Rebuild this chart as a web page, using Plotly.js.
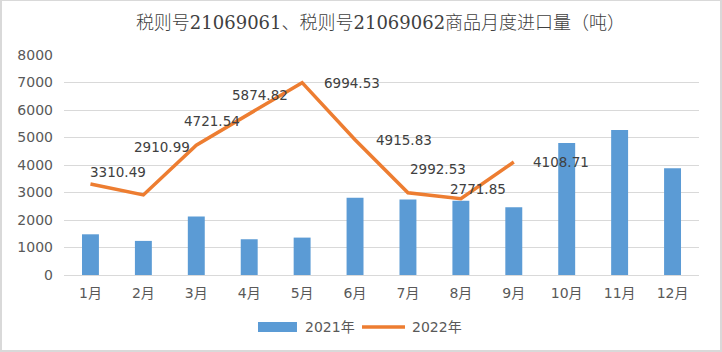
<!DOCTYPE html>
<html><head><meta charset="utf-8">
<script src="https://cdn.plot.ly/plotly-3.0.1.min.js"></script>
<style>
html,body{margin:0;padding:0;background:#fff;}
#chart{position:absolute;left:0;top:0;width:722px;height:352px;}
#frame{position:absolute;left:0;top:0;width:722px;height:352px;box-sizing:border-box;border:2px solid #d9d9d9;border-top:1px solid #d9d9d9;pointer-events:none;}
</style></head>
<body><div id="chart"></div><div id="frame"></div>
<script>
const months = ["1月","2月","3月","4月","5月","6月","7月","8月","9月","10月","11月","12月"];
const y2021 = [1480,1240,2130,1300,1360,2810,2750,2700,2460,4800,5270,3880];
const y2022 = [3310.49,2910.99,4721.54,5874.82,6994.53,4915.83,2992.53,2771.85,4108.71,null,null,null];
const seriesNames = ["2021年","2022年"];
const labelShiftX = [28,19,16,11,50,49,30,17,47];
const labelShiftY = [12,48,24,18,0,0,24,10,0];

const FONT = 'DejaVu Sans, Noto Sans CJK SC, sans-serif';
const annotations = [];
y2022.forEach((v,i)=>{
  if(v===null) return;
  annotations.push({x:months[i], y:v, xref:'x', yref:'y', text:v.toFixed(2), showarrow:false,
    xshift:labelShiftX[i], yshift:labelShiftY[i],
    font:{family:FONT, size:13.5, color:'#404040'}});
});
// custom legend text
annotations.push({xref:'paper', yref:'paper', x:0.3764, y:-0.2364, xanchor:'left', yanchor:'middle', showarrow:false,
  text:seriesNames[0], font:{family:FONT, size:14, color:'#595959'}});
annotations.push({xref:'paper', yref:'paper', x:0.5449, y:-0.2364, xanchor:'left', yanchor:'middle', showarrow:false,
  text:seriesNames[1], font:{family:FONT, size:14, color:'#595959'}});

const shapes = [
  {type:'rect', xref:'paper', yref:'paper', x0:0.3055, x1:0.3669, y0:-0.2591, y1:-0.2136, fillcolor:'#5B9BD5', line:{width:0}},
  {type:'line', xref:'paper', yref:'paper', x0:0.4693, x1:0.537, y0:-0.2364, y1:-0.2364, line:{color:'#ED7D31', width:3.5}}
];

const data = [
  {type:'bar', name:seriesNames[0], x:months, y:y2021, marker:{color:'#5B9BD5'}, width:0.32},
  {type:'scatter', mode:'lines', name:seriesNames[1], x:months, y:y2022, line:{color:'#ED7D31', width:3.5}}
];
const layout = {
  width:722, height:352,
  margin:{l:64, r:23, t:55, b:77},
  paper_bgcolor:'#fff', plot_bgcolor:'#fff',
  title:{text:'税则号21069061、税则号21069062商品月度进口量（吨）', x:0.527, xanchor:'center', y:0.935, yanchor:'middle',
    font:{family:'DejaVu Serif, Noto Sans CJK SC, serif', size:18, color:'#404040', weight:300}},
  xaxis:{type:'category', showgrid:false, zeroline:false, showline:false, ticks:'', ticklabelstandoff:8,
    tickfont:{family:FONT, size:14, color:'#595959'}},
  yaxis:{range:[0,8000], dtick:1000, tick0:0, showgrid:true, gridcolor:'#d9d9d9', gridwidth:1,
    zeroline:true, zerolinecolor:'#d9d9d9', zerolinewidth:1, showline:false, ticks:'',
    ticklabelstandoff:10,
    tickfont:{family:FONT, size:14, color:'#595959'}},
  showlegend:false,
  annotations:annotations,
  shapes:shapes
};
Plotly.newPlot('chart', data, layout, {displayModeBar:false, staticPlot:true});
</script></body></html>
